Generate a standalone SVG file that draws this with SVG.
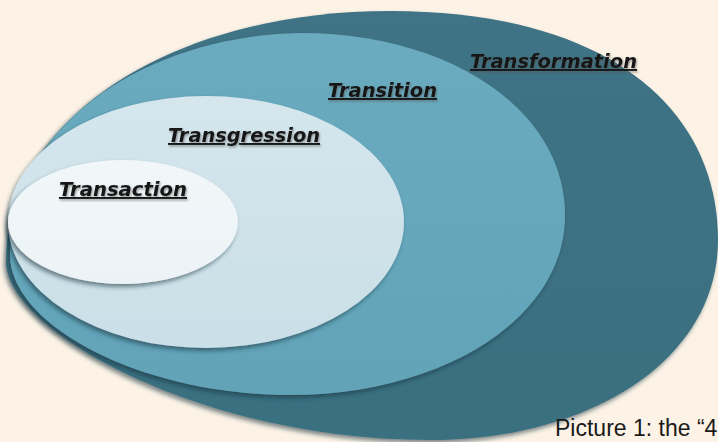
<svg xmlns="http://www.w3.org/2000/svg" width="718" height="442" viewBox="0 0 718 442">
<defs>
<filter id="sh" x="-10%" y="-10%" width="120%" height="125%">
<feDropShadow dx="-2" dy="3" stdDeviation="2" flood-color="#10303a" flood-opacity="0.55"/>
</filter>
<filter id="tsh" x="-5%" y="-20%" width="110%" height="150%">
<feDropShadow dx="1" dy="1.5" stdDeviation="0.8" flood-color="#555" flood-opacity="0.6"/>
</filter>
<linearGradient id="gOuter" x1="0" y1="0" x2="0" y2="1">
<stop offset="0" stop-color="#3f7385"/>
<stop offset="1" stop-color="#3a6f80"/>
</linearGradient>
<linearGradient id="gTrans" x1="0" y1="0" x2="0" y2="1">
<stop offset="0" stop-color="#6aabbf"/>
<stop offset="1" stop-color="#62a3b8"/>
</linearGradient>
<linearGradient id="gGress" x1="0" y1="0" x2="0" y2="1">
<stop offset="0" stop-color="#d5e6ed"/>
<stop offset="1" stop-color="#cadfe7"/>
</linearGradient>
<linearGradient id="gAct" x1="0" y1="0" x2="0" y2="1">
<stop offset="0" stop-color="#f1f7f9"/>
<stop offset="1" stop-color="#ecf3f6"/>
</linearGradient>
</defs>
<style>
.lbl{font-family:"DejaVu Sans Condensed","DejaVu Sans",sans-serif;font-weight:bold;font-style:italic;font-size:19px;fill:#141414;text-decoration:underline;filter:url(#tsh)}
.cap{font-family:"Liberation Sans",Arial,sans-serif;font-size:23px;fill:#1a1a1a}
</style>
<rect width="718" height="442" fill="#fcf3e6"/>
<g id="transformation">
<path d="M390,11 C610,11 718,110 718,240 C718,360 590,440 430,440 C200,440 6,330 6,262 C6,120 170,11 390,11 Z" fill="url(#gOuter)" filter="url(#sh)"/>
<text class="lbl" x="470" y="68" textLength="167" lengthAdjust="spacingAndGlyphs">Transformation</text>
</g>
<g id="transition">
<path d="M300,33 C450,33 565,110 565,215 C565,320 440,395 290,395 C140,395 10,325 10,255 C10,130 140,36 300,33 Z" fill="url(#gTrans)" filter="url(#sh)"/>
<text class="lbl" x="328" y="97" textLength="109" lengthAdjust="spacingAndGlyphs">Transition</text>
</g>
<g id="transgression">
<ellipse cx="206" cy="222" rx="198" ry="126" fill="url(#gGress)" filter="url(#sh)"/>
<text class="lbl" x="168" y="142" textLength="152" lengthAdjust="spacingAndGlyphs">Transgression</text>
</g>
<g id="transaction">
<ellipse cx="123" cy="222" rx="115" ry="62" fill="url(#gAct)" filter="url(#sh)"/>
<text class="lbl" x="59" y="196" textLength="128" lengthAdjust="spacingAndGlyphs">Transaction</text>
</g>
<g id="connectors"/>
<text class="cap" x="555" y="436">Picture 1: the “4</text>
</svg>
